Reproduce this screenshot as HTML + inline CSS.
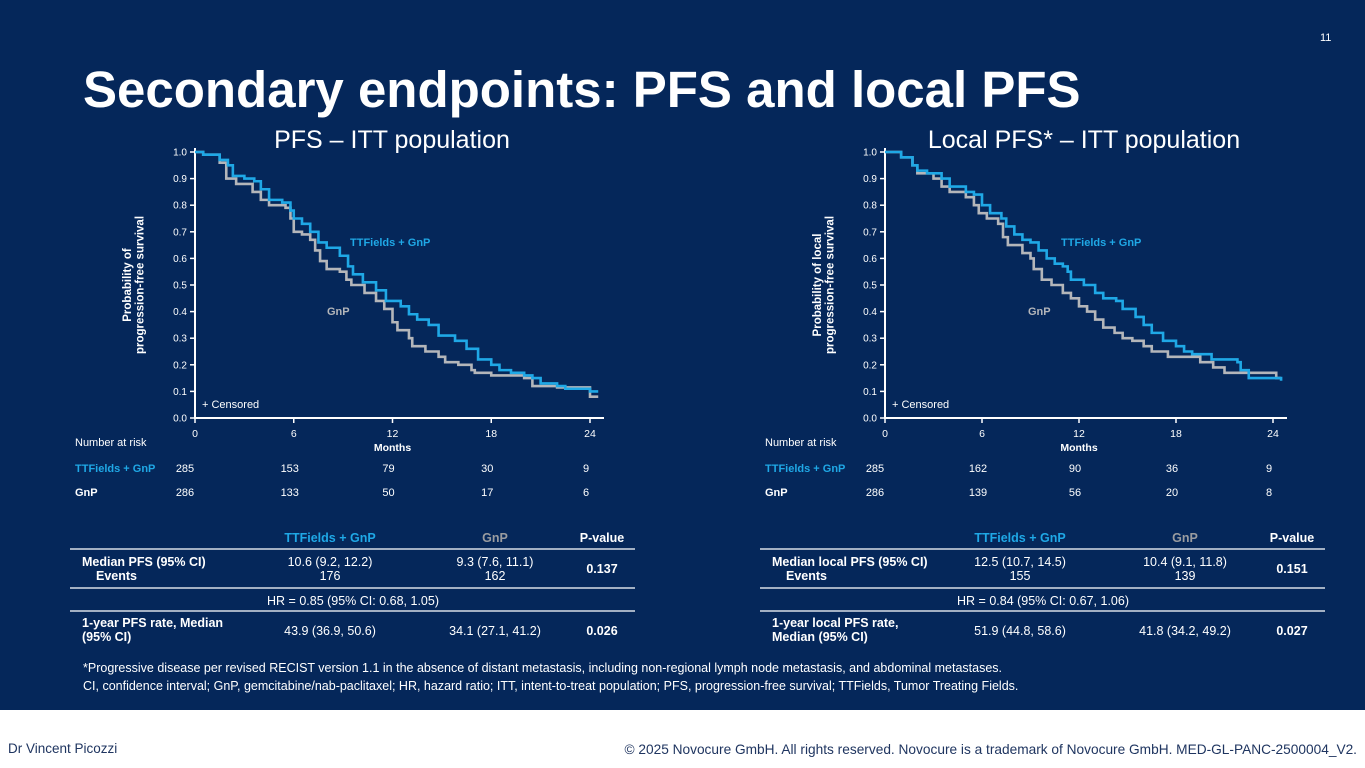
<!DOCTYPE html>
<html><head><meta charset="utf-8"><style>
body{margin:0;width:1365px;height:768px;overflow:hidden;background:#fff;font-family:"Liberation Sans",Arial,sans-serif}
svg{display:block}
</style></head><body>
<svg id="page" width="1365" height="768" viewBox="0 0 1365 768" xmlns="http://www.w3.org/2000/svg" font-family="Liberation Sans, Arial, sans-serif">
<rect x="0" y="0" width="1365" height="710" fill="#05275a"/>
<rect x="0" y="710" width="1365" height="58" fill="#ffffff"/>
<text x="1320" y="41" fill="#fff" font-size="11">11</text>
<text x="83" y="107" fill="#fff" font-size="51" font-weight="bold">Secondary endpoints: PFS and local PFS</text>
<g id="charts"></g>
<g id="tables"></g>
<text x="83" y="672" fill="#fff" font-size="12.5">*Progressive disease per revised RECIST version 1.1 in the absence of distant metastasis, including non-regional lymph node metastasis, and abdominal metastases.</text>
<text x="83" y="690" fill="#fff" font-size="12.5">CI, confidence interval; GnP, gemcitabine/nab-paclitaxel; HR, hazard ratio; ITT, intent-to-treat population; PFS, progression-free survival; TTFields, Tumor Treating Fields.</text>
<text x="8" y="753" fill="#1f3560" font-size="13.5">Dr Vincent Picozzi</text>
<text x="1357" y="754" fill="#1f3560" font-size="13.7" text-anchor="end">© 2025 Novocure GmbH. All rights reserved. Novocure is a trademark of Novocure GmbH. MED-GL-PANC-2500004_V2.</text>
</svg>
<script>
// ---- data ----
const xTicks = [0, 6, 12, 18, 24];
const yTicks = [0, 0.1, 0.2, 0.3, 0.4, 0.5, 0.6, 0.7, 0.8, 0.9, 1.0];
const pfsTTMonths = [0,0.5,1.5,2,2.3,3,3.6,4,4.5,5.3,5.8,6,6.5,7,7.5,8,8.8,9.3,9.6,10.2,11,11.6,12.5,13,13.5,14.2,14.8,15.8,16.5,17.2,18,18.5,19.2,20,20.5,21,22,22.5,24,24.5];
const pfsTTSurv = [1,0.99,0.97,0.95,0.91,0.9,0.89,0.86,0.82,0.81,0.78,0.75,0.73,0.7,0.66,0.64,0.61,0.57,0.54,0.51,0.48,0.44,0.42,0.39,0.37,0.35,0.31,0.29,0.26,0.22,0.2,0.18,0.17,0.16,0.15,0.13,0.12,0.11,0.10,0.10];
const pfsGnMonths = [0,0.5,1.5,1.9,2.5,3.5,4,4.5,5.5,5.8,6,6.5,7,7.3,7.6,8,8.8,9.2,9.5,10.3,11,11.5,12,12.3,13,13.2,14,14.8,15.2,16,16.8,17,18,20,20.5,22,24,24.5];
const pfsGnSurv = [1,0.99,0.96,0.9,0.88,0.85,0.82,0.8,0.79,0.75,0.7,0.69,0.67,0.63,0.59,0.56,0.55,0.52,0.5,0.47,0.44,0.41,0.36,0.33,0.3,0.27,0.25,0.23,0.21,0.2,0.18,0.17,0.16,0.15,0.12,0.115,0.08,0.08];
const lpfsTTMonths = [0,1,1.7,2,2.6,3.5,4,5,5.5,6,6.5,7.2,7.5,8,8.5,9,9.5,10,10.5,11,11.3,11.5,12.3,13,13.5,14.3,14.7,15.5,16,16.5,17.2,18,18.5,19,20.2,21.8,22,22.5,24.5];
const lpfsTTSurv = [1,0.98,0.95,0.93,0.92,0.9,0.87,0.85,0.84,0.8,0.77,0.75,0.72,0.69,0.67,0.66,0.63,0.6,0.58,0.57,0.55,0.52,0.5,0.47,0.45,0.44,0.41,0.38,0.35,0.32,0.29,0.27,0.25,0.24,0.22,0.21,0.18,0.15,0.14];
const lpfsGnMonths = [0,1,1.7,2,3,3.5,4,5,5.5,5.8,6.3,7,7.3,7.6,8.5,9,9.2,9.7,10.3,11,11.5,12,12.5,13,13.5,14.2,14.7,15.3,16,16.5,17.5,19.5,20.3,21,24.2,24.5];
const lpfsGnSurv = [1,0.98,0.95,0.92,0.9,0.87,0.85,0.83,0.8,0.77,0.75,0.73,0.68,0.65,0.62,0.6,0.56,0.52,0.5,0.47,0.45,0.42,0.40,0.37,0.34,0.32,0.3,0.29,0.27,0.25,0.23,0.21,0.19,0.17,0.15,0.15];
const riskLabels = ["TTFields + GnP", "GnP"];
const pfsRiskTT = [285, 153, 79, 30, 9];
const pfsRiskGn = [286, 133, 50, 17, 6];
const lpfsRiskTT = [285, 162, 90, 36, 9];
const lpfsRiskGn = [286, 139, 56, 20, 8];

const NS = "http://www.w3.org/2000/svg";
function mk(tag, attrs, parent, txt){
  const e = document.createElementNS(NS, tag);
  for (const k in attrs) e.setAttribute(k, attrs[k]);
  if (txt !== undefined) e.textContent = txt;
  parent.appendChild(e); return e;
}
const BLUE = "#1fa8e6", GRAY = "#b4b6ba";

function drawChart(cfg){
  const g = mk("g", {}, document.getElementById("charts"));
  
  
  const x = m => cfg.x0 + (m/24)*(cfg.x24 - cfg.x0);
  const y = v => 418 - v*(418-152);
  const t = mk("text", {x: cfg.titleX, y: 148, fill: "#fff", "font-size": 25, "text-anchor": "middle"}, g, cfg.title);
  
  
  const ax = mk("path", {d: `M${cfg.x0} 148 V418 H${cfg.axEnd}`, stroke: "#fff", "stroke-width": 2, fill: "none"}, g);
  
  
  yTicks.forEach(v => {
    mk("line", {x1: cfg.x0-5, x2: cfg.x0, y1: y(v), y2: y(v), stroke: "#fff", "stroke-width": 1.5}, g);
    const l = mk("text", {x: cfg.x0-8, y: y(v)+3.5, fill: "#fff", "font-size": 10, "text-anchor": "end"}, g, v.toFixed(1));
    
    
  });
  xTicks.forEach(m => {
    mk("line", {x1: x(m), x2: x(m), y1: 418, y2: 423, stroke: "#fff", "stroke-width": 1.5}, g);
    const l = mk("text", {x: x(m), y: 437, fill: "#fff", "font-size": 10.5, "text-anchor": "middle"}, g, String(m));
    
    
  });
  const xt = mk("text", {x: x(12), y: 451, fill: "#fff", "font-size": 10.5, "font-weight": "bold", "text-anchor": "middle"}, g, "Months");
  
  
  const yt = mk("text", {transform: `translate(${cfg.x0-64},285) rotate(-90)`, fill: "#fff", "font-size": 11.5, "font-weight": "bold", "text-anchor": "middle"}, g);
  
  
  mk("tspan", {x: 0, dy: 0}, yt, cfg.yTitle1);
  mk("tspan", {x: 0, dy: 12.5}, yt, cfg.yTitle2);
  const cens = mk("text", {x: cfg.x0+7, y: 408, fill: "#fff", "font-size": 11}, g, "+ Censored");
  
  
  function step(ms, ss, color, nm){
    let d = `M${x(ms[0])} ${y(ss[0])}`;
    for (let i=1;i<ms.length;i++){ d += ` H${x(ms[i])} V${y(ss[i])}`; }
    const p = mk("path", {d, stroke: color, "stroke-width": 2.6, fill: "none"}, g);
    
    
  }
  step(cfg.gM, cfg.gS, GRAY, 'gnp-curve');
  step(cfg.tM, cfg.tS, BLUE, 'ttfields-gnp-curve');
  const lt = mk("text", {x: cfg.x0+cfg.ttLabelDx, y: 246, fill: BLUE, "font-size": 11, "font-weight": "bold"}, g, "TTFields + GnP");
  
  
  const lg = mk("text", {x: cfg.x0+cfg.gLabelDx, y: 315, fill: "#b4b6ba", "font-size": 11, "font-weight": "bold"}, g, "GnP");
  
  
  const nr = mk("text", {x: cfg.x0-120, y: 446, fill: "#fff", "font-size": 11}, g, "Number at risk");
  
  
  [[cfg.rT, BLUE, 472], [cfg.rG, "#fff", 496]].forEach((row, ri) => {
    const rl = mk("text", {x: cfg.x0-120, y: row[2], fill: row[1], "font-size": 11, "font-weight": "bold"}, g, riskLabels[ri]);
    
    
    row[0].forEach((v, i) => {
      const px = i === 0 ? x(0)-10 : x(xTicks[i]) - 4;
      const c = mk("text", {x: px, y: row[2], fill: "#fff", "font-size": 11, "text-anchor": "middle"}, g, String(v));
      
      
    });
  });
}
drawChart({name: "pfs-chart", title: "PFS – ITT population", titleX: 392, x0: 195, x24: 590, axEnd: 604,
  yTitle1: "Probability of", yTitle2: "progression-free survival", tM: pfsTTMonths, tS: pfsTTSurv, gM: pfsGnMonths, gS: pfsGnSurv,
  ttLabelDx: 155, gLabelDx: 132, rT: pfsRiskTT, rG: pfsRiskGn});
drawChart({name: "local-pfs-chart", title: "Local PFS* – ITT population", titleX: 1084, x0: 885, x24: 1273, axEnd: 1287,
  yTitle1: "Probability of local", yTitle2: "progression-free survival", tM: lpfsTTMonths, tS: lpfsTTSurv, gM: lpfsGnMonths, gS: lpfsGnSurv,
  ttLabelDx: 176, gLabelDx: 143, rT: lpfsRiskTT, rG: lpfsRiskGn});

function drawTable(x0, name, r1a, r1b, v1t, v1g, ev1, ev2, p1, hr, r3a, r3b, v3t, v3g, p3){
  const g = mk("g", {}, document.getElementById("tables"));
  
  
  const W = 565, cT = x0+260, cG = x0+425, cP = x0+532;
  const T = (x,y,s,o) => { const e = mk("text", Object.assign({x, y, fill: "#fff", "font-size": 12.5}, o||{}), g, s);
    
     return e; };
  T(cT, 542, "TTFields + GnP", {fill: BLUE, "font-weight": "bold", "text-anchor": "middle"});
  T(cG, 542, "GnP", {fill: "#9a9ca0", "font-weight": "bold", "text-anchor": "middle"});
  T(cP, 542, "P-value", {"font-weight": "bold", "text-anchor": "middle"});
  [549, 588, 611].forEach(yy => mk("line", {x1: x0, x2: x0+W, y1: yy, y2: yy, stroke: "#d8dde6", "stroke-width": 1.5}, g));
  T(x0+12, 566, r1a, {"font-weight": "bold"});
  T(x0+26, 580, "Events", {"font-weight": "bold"});
  T(cT, 566, v1t, {"text-anchor": "middle"}); T(cT, 580, ev1, {"text-anchor": "middle"});
  T(cG, 566, v1g, {"text-anchor": "middle"}); T(cG, 580, ev2, {"text-anchor": "middle"});
  T(cP, 573, p1, {"font-weight": "bold", "text-anchor": "middle"});
  T(x0+283, 605, hr, {"text-anchor": "middle"});
  T(x0+12, 627, r3a, {"font-weight": "bold"});
  T(x0+12, 641, r3b, {"font-weight": "bold"});
  T(cT, 635, v3t, {"text-anchor": "middle"});
  T(cG, 635, v3g, {"text-anchor": "middle"});
  T(cP, 635, p3, {"font-weight": "bold", "text-anchor": "middle"});
}
drawTable(70, "pfs-summary-table", "Median PFS (95% CI)", "", "10.6 (9.2, 12.2)", "9.3 (7.6, 11.1)", "176", "162", "0.137",
  "HR = 0.85 (95% CI: 0.68, 1.05)", "1-year PFS rate, Median", "(95% CI)", "43.9 (36.9, 50.6)", "34.1 (27.1, 41.2)", "0.026");
drawTable(760, "local-pfs-summary-table", "Median local PFS (95% CI)", "", "12.5 (10.7, 14.5)", "10.4 (9.1, 11.8)", "155", "139", "0.151",
  "HR = 0.84 (95% CI: 0.67, 1.06)", "1-year local PFS rate,", "Median (95% CI)", "51.9 (44.8, 58.6)", "41.8 (34.2, 49.2)", "0.027");
</script>
</body></html>
